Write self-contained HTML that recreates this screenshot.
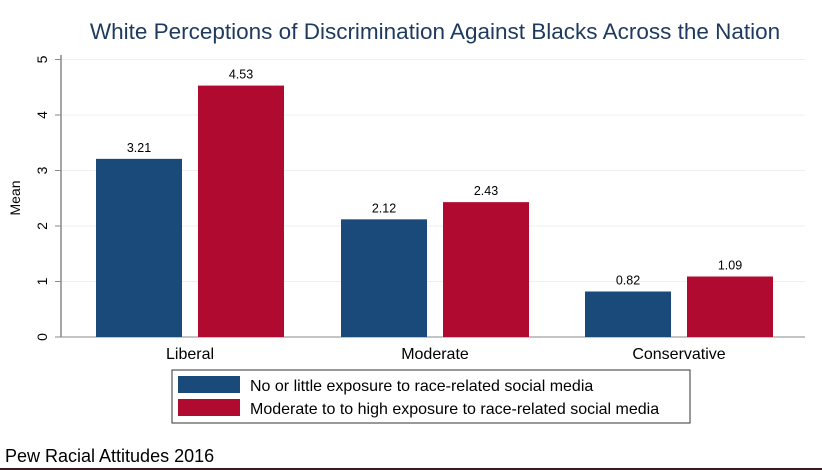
<!DOCTYPE html>
<html><head><meta charset="utf-8"><style>
body{margin:0;background:#fff;font-family:"Liberation Sans",sans-serif}
svg{display:block}
</style></head><body>
<svg width="822" height="470" xmlns="http://www.w3.org/2000/svg" font-family="Liberation Sans, sans-serif">
<rect width="822" height="470" fill="#fff"/>
<text x="435" y="39" font-size="22.5" fill="#1e3a5f" text-anchor="middle">White Perceptions of Discrimination Against Blacks Across the Nation</text>
<g id="grid"></g>
<line x1="61" y1="55" x2="61" y2="337" stroke="#888" stroke-width="1.5"/>
<line x1="61" y1="337" x2="805" y2="337" stroke="#888" stroke-width="1"/>
<text x="20" y="198" font-size="14" transform="rotate(-90 20 198)" text-anchor="middle">Mean</text>
<g id="bars"></g>
<rect x="172" y="370" width="518" height="53" fill="#fff" stroke="#333"/>
<rect x="178" y="376" width="62" height="17" fill="#1a4a7a"/>
<text x="250" y="391" font-size="16">No or little exposure to race-related social media</text>
<rect x="178" y="399" width="62" height="17" fill="#b00a30"/>
<text x="250" y="414" font-size="16">Moderate to to high exposure to race-related social media</text>
<text x="5" y="462" font-size="18">Pew Racial Attitudes 2016</text>
<line x1="0" y1="469" x2="822" y2="469" stroke="#3a1a20" stroke-width="2"/>
</svg>
<script>
const categories=["Liberal","Moderate","Conservative"];
const lowExposure=[3.21,2.12,0.82];
const highExposure=[4.53,2.43,1.09];
const yTicks=[0,1,2,3,4,5];
const NS="http://www.w3.org/2000/svg";
const y0=337,pxPerUnit=55.5;
function yScale(v){return y0-v*pxPerUnit;}
const groupCenters=[190,435,679];
function mk(tag,attrs,parent){const e=document.createElementNS(NS,tag);for(const k in attrs)e.setAttribute(k,attrs[k]);parent.appendChild(e);return e;}
const svg=document.querySelector('svg'),grid=document.getElementById('grid'),bars=document.getElementById('bars');
yTicks.forEach(t=>{const y=yScale(t);
 if(t>0){const g=mk('line',{x1:62,x2:805,y1:y,y2:y,stroke:'#eef0f0','stroke-width':1},grid);
 
 }
 const tk=mk('line',{x1:55,x2:61,y1:y,y2:y,stroke:'#888'},grid);
 
 
 const tx=mk('text',{x:47,y:y,'font-size':14,'text-anchor':'middle',transform:`rotate(-90 47 ${y})`},grid);
 
 
 tx.textContent=t;});
categories.forEach((c,i)=>{const cx=groupCenters[i];
 [[lowExposure,'#1a4a7a',-94],[highExposure,'#b00a30',8]].forEach(([arr,col,off],j)=>{
  const v=arr[i],x=cx+off,w=86;
  const r=mk('rect',{x:x,y:yScale(v),width:w,height:y0-yScale(v),fill:col},bars);
  
  
  const l=mk('text',{x:x+w/2,y:yScale(v)-7,'font-size':12.5,'text-anchor':'middle'},bars);
  
  
  l.textContent=v.toFixed(2);});
 const cl=mk('text',{x:cx,y:359,'font-size':16,'text-anchor':'middle'},bars);
 
 
 cl.textContent=c;});
</script>
</body></html>
